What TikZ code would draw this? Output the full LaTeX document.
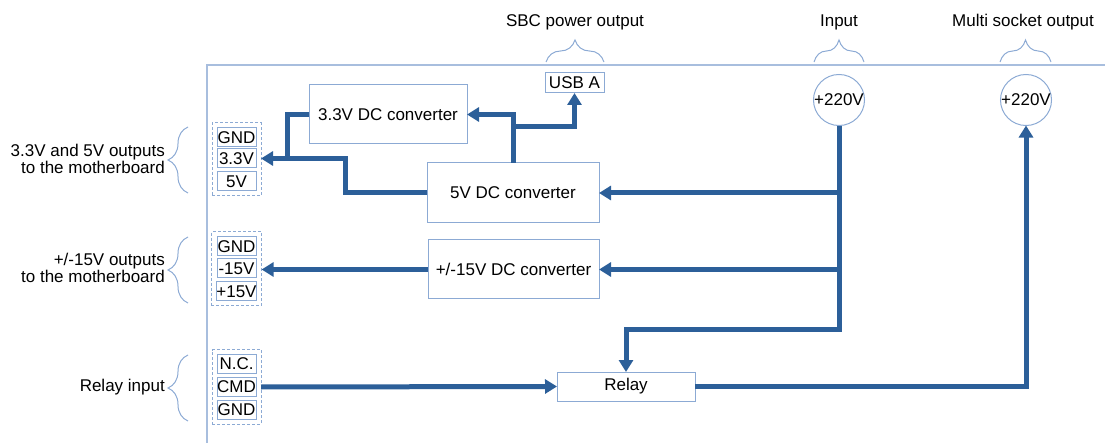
\documentclass[tikz,border=0pt]{standalone}
\usepackage{fontspec}
\setmainfont{Liberation Sans}
\usetikzlibrary{arrows.meta,decorations.pathreplacing,fit}
\definecolor{wirec}{RGB}{44,95,153}
\definecolor{boxc}{RGB}{140,170,212}
\definecolor{framec}{RGB}{168,190,222}
\begin{document}
\begin{tikzpicture}[x=1pt,y=-1pt,
  font=\fontsize{17}{17.5}\selectfont,
  box/.style={draw=boxc, line width=1pt, inner sep=0pt, outer sep=0pt},
  pin/.style={draw=boxc, line width=1pt, minimum width=39pt, minimum height=19pt, inner sep=0pt, outer sep=0pt},
  grp/.style={draw=boxc, dash pattern=on 3pt off 2pt, line width=1pt, inner sep=5pt, outer sep=0pt},
  wire/.style={draw=wirec, line width=5pt},
  arr/.style={wire, -{Triangle[length=12pt,width=14pt]}},
  brc/.style={draw=boxc, line width=1pt, decorate, decoration={brace, amplitude=20pt}},
  tbrc/.style={draw=boxc, line width=1pt, decorate, decoration={brace, amplitude=22pt}},
  sock/.style={circle, draw=boxc, line width=1pt, minimum size=50pt, inner sep=0pt, outer sep=0pt}]
\useasboundingbox (0,0) rectangle (1105,443);
% frame
\draw[framec, line width=1.2pt] (1105,65) -- (207,65) -- (207,443);
% boxes
\node[box, minimum width=158pt, minimum height=59pt] (c33) at (388,114.5) {3.3V DC converter};
\node[box, minimum width=59pt, minimum height=20pt] (usb) at (574.5,83) {USB A};
\node[box, minimum width=172pt, minimum height=60pt] (c5) at (513,193) {5V DC converter};
\node[box, minimum width=171pt, minimum height=59pt] (c15) at (513.5,269.5) {+/-15V DC converter};
\node[box, minimum width=138pt, minimum height=29pt] (relay) at (626,386.5) {Relay};
\node[sock] (in) at (839,100) {+220V};
\node[sock] (out) at (1026,100) {+220V};
% pins
\node[pin] (g1) at (236.5,137.5) {GND};
\node[pin] (p33) at (236.5,158.5) {3.3V};
\node[pin] (p5) at (236.5,181.5) {5V};
\node[pin] (g2) at (236.5,246.5) {GND};
\node[pin] (m15) at (236.5,268.5) {-15V};
\node[pin] (p15) at (236.5,291.5) {+15V};
\node[pin] (nc) at (236.5,364) {N.C.};
\node[pin] (cmd) at (236.5,387) {CMD};
\node[pin] (g3) at (236.5,409.5) {GND};
\node[grp, fit=(g1)(p5)] (grp1) {};
\node[grp, fit=(g2)(p15)] (grp2) {};
\node[grp, fit=(nc)(g3)] (grp3) {};
% braces
\draw[brc] (188,193) -- (188,127);
\draw[brc] (188,303) -- (188,237);
\draw[brc] (188,421) -- (188,355);
\draw[tbrc] (546,62) -- (604,62);
\draw[tbrc] (814,62) -- (864,62);
\draw[tbrc] (1000,62) -- (1051,62);
% labels
\node[anchor=east, align=right, inner sep=0pt] (l1) at (165,159) {3.3V and 5V outputs\\to the motherboard};
\node[anchor=east, align=right, inner sep=0pt] (l2) at (165,268) {+/-15V outputs\\to the motherboard};
\node[anchor=east, inner sep=0pt] (l3) at (165,387) {Relay input};
\node (t1) at (575,22) {SBC power output};
\node (t2) at (839,22) {Input};
\node (t3) at (1023,22) {Multi socket output};
% wires
\coordinate (j5) at (513,127);
\coordinate (k1) at (345,158.5);
\coordinate (k2) at (287,158.5);
\coordinate (k3) at (839,330);
\draw[arr] (c5.north) |- (c33.east);
\draw[arr] (j5) -| (usb.south);
\draw[arr] (c5.west) -| (k1) -- (k1 -| grp1.east);
\draw[wire] (c33.west) -| (k2);
\draw[arr] (in.south) -- (k3) -| (relay.north);
\draw[arr] (in.south |- c5.east) -- (c5.east);
\draw[arr] (in.south |- c15.east) -- (c15.east);
\draw[arr] (c15.west) -- (c15.west -| grp2.east);
\draw[arr] (cmd.east -| grp3.east) -- (relay.west);
\draw[arr] (relay.east) -| (out.south);
\end{tikzpicture}
\end{document}
